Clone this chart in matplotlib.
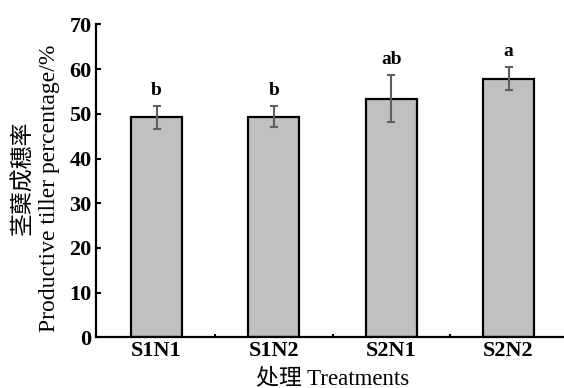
import numpy as np
import matplotlib
matplotlib.use("Agg")
import matplotlib.pyplot as plt

# data
treatments = ["S1N1", "S1N2", "S2N1", "S2N2"]
means = [49.2, 49.4, 53.4, 57.9]
errors = [2.6, 2.4, 5.3, 2.5]
letters = ["b", "b", "ab", "a"]

serif = ["Liberation Serif", "Noto Sans CJK SC"]
plt.rcParams["font.family"] = serif

fig = plt.figure(figsize=(5.64, 3.88), dpi=100)
ax = fig.add_axes([0.170, 0.1307, 0.830, 0.8063])

x = np.arange(1, len(treatments) + 1)
ax.bar(x, means, width=0.435, color="#c0c0c0", edgecolor="black", linewidth=1.6, zorder=2)
ax.errorbar(x, means, yerr=errors, fmt="none", ecolor="#5f5f5f", elinewidth=1.5,
            capsize=3.2, capthick=1.5, zorder=3)

for xi, m, e, lab in zip(x, means, errors, letters):
    ax.text(xi, m + e + 1.6, lab, ha="center", va="bottom", fontsize=14, fontweight="bold")

ax.set_xlim(0.483, 4.473)
ax.set_ylim(0, 70)
ax.set_yticks(np.arange(0, 71, 10))
ax.set_xticks(x)
ax.set_xticklabels(treatments)
ax.set_xticks([1.5, 2.5, 3.5], minor=True)

for s in ["top", "right"]:
    ax.spines[s].set_visible(False)
for s in ["left", "bottom"]:
    ax.spines[s].set_linewidth(1.6)

ax.tick_params(axis="y", direction="in", length=3.5, width=1.5, pad=3, labelsize=16)
ax.tick_params(axis="x", which="major", length=0, pad=3, labelsize=16)
ax.tick_params(axis="x", which="minor", direction="in", length=2, width=1.5)
for t in ax.get_xticklabels() + ax.get_yticklabels():
    t.set_fontweight("bold")

fig.text(0.041, 0.541, "茎蘖成穗率", rotation=90, ha="center", va="center",
         fontsize=16.5, family=["Noto Sans CJK SC"])
fig.text(0.088, 0.514, "Productive tiller percentage/%", rotation=90,
         ha="center", va="center", fontsize=17)
fig.text(0.590, 0.024, "处理 Treatments", ha="center", va="center", fontsize=16.5)

fig.savefig("out.png", dpi=100)
